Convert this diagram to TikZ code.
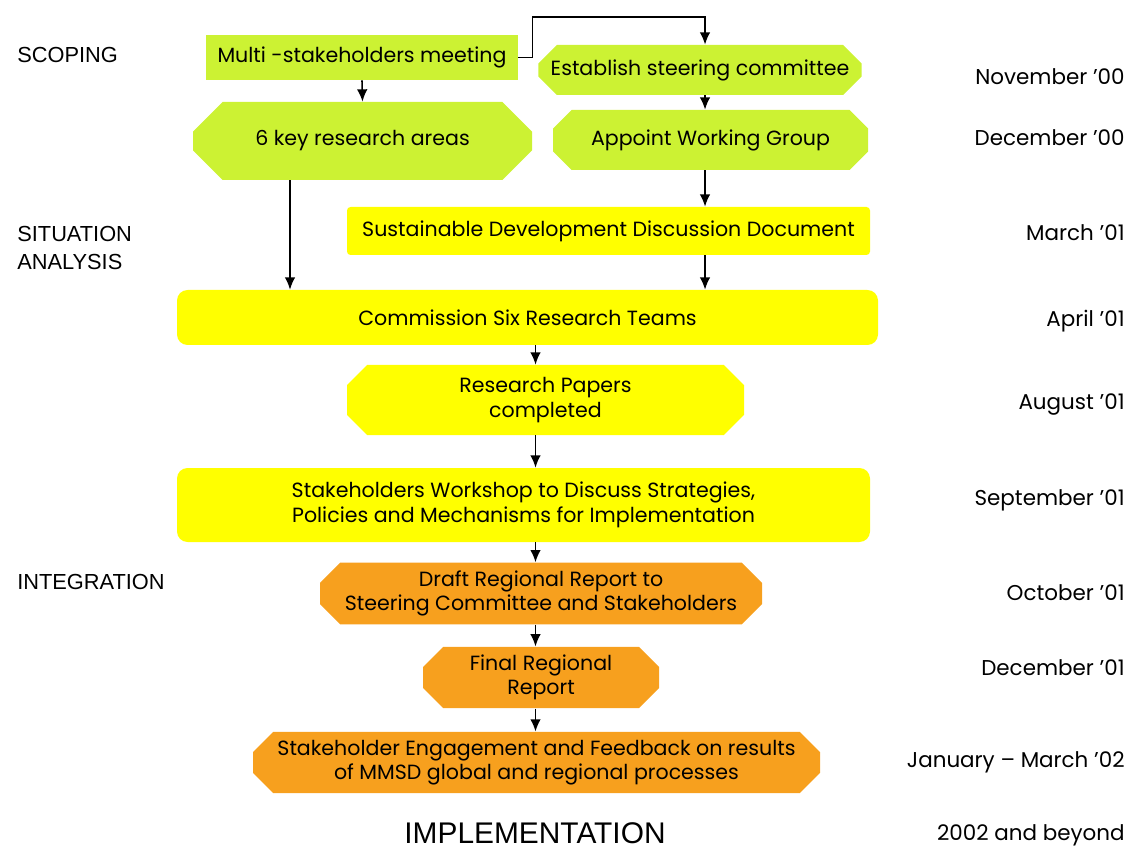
\documentclass[tikz,border=0pt]{standalone}
\usepackage{fontspec}
\usepackage{xcolor}
\usetikzlibrary{shapes.misc,arrows.meta}
\setmainfont{Poppins}
\newfontfamily\phasefont{Liberation Sans}

\begin{document}
\begin{tikzpicture}[
  box/.style={fill=#1,text=black,align=center,inner sep=1pt,font=\fontsize{11.7}{14}\selectfont},
  flatbox/.style={box=#1,rectangle},
  roundbox/.style={box=#1,rectangle,rounded corners=6pt},
  cutbox/.style={box=#1,inner ysep=0pt,chamfered rectangle,chamfered rectangle xsep=7pt,chamfered rectangle ysep=4.5pt},
  arr/.style={-{Latex[length=7pt,width=6pt]},line width=0.9pt},
  datelbl/.style={anchor=east,inner sep=0pt,font=\fontsize{12.2}{14}\selectfont},
  phase/.style={anchor=west,align=left,inner sep=0pt,font=\phasefont\fontsize{12.4}{15.5}\selectfont}]
\definecolor{lime}{HTML}{CCF233}
\definecolor{lemon}{HTML}{FFFF00}
\definecolor{amber}{HTML}{F7A01E}
\useasboundingbox (0,0) rectangle (22.66,-17.04);

% phases on the left
\node [phase] (scoping) at (0.34,-1.10) {SCOPING};
\node [phase] (situation) at (0.34,-4.96) {SITUATION\\ANALYSIS};
\node [phase] (integration) at (0.34,-11.64) {INTEGRATION};

% lanes for the arrows
\coordinate (llane) at (5.8,0);
\coordinate (rlane) at (14.1,0);
\coordinate (spine) at (10.71,0);
\coordinate (turn) at (14.1,-0.34);

% scoping
\node [flatbox=lime,minimum width=6.24cm,minimum height=0.9cm] (multi) at (7.24,-1.15) {Multi -stakeholders meeting};
\node [cutbox=lime,minimum width=6.4cm,minimum height=1cm] (steer) at (14.0,-1.40) {Establish steering committee};
\node [cutbox=lime,chamfered rectangle xsep=12pt,chamfered rectangle ysep=11pt,minimum width=6.78cm,minimum height=1.56cm] (areas) at (7.25,-2.82) {6 key research areas};
\node [cutbox=lime,minimum width=6.3cm,minimum height=1.2cm] (appoint) at (14.21,-2.80) {Appoint Working Group};

% situation analysis
\node [flatbox=lemon,rounded corners=2pt,minimum width=10.46cm,minimum height=0.96cm] (discuss) at (12.17,-4.62) {Sustainable Development Discussion Document};
\node [roundbox=lemon,minimum width=14.02cm,minimum height=1.1cm] (commission) at (10.55,-6.35) {Commission Six Research Teams};
\node [cutbox=lemon,minimum width=7.94cm,minimum height=1.4cm] (papers) at (10.91,-8.0) {Research Papers\\completed};
\node [roundbox=lemon,minimum width=13.86cm,minimum height=1.48cm] (workshop) at (10.47,-10.1) {Stakeholders Workshop to Discuss Strategies,\\Policies and Mechanisms for Implementation};

% integration
\node [cutbox=amber,minimum width=8.84cm,minimum height=1.14cm] (draft) at (10.82,-11.87) {Draft Regional Report to\\Steering Committee and Stakeholders};
\node [cutbox=amber,minimum width=4.72cm,minimum height=1.18cm] (final) at (10.82,-13.55) {Final Regional\\Report};
\node [cutbox=amber,minimum width=11.34cm,minimum height=1.1cm] (engage) at (10.73,-15.25) {Stakeholder Engagement and Feedback on results\\of MMSD global and regional processes};
\node [font=\phasefont\fontsize{17}{19}\selectfont] (impl) at (10.7,-16.66) {IMPLEMENTATION};

% dates on the right
\foreach \dte/\ypos [count=\i] in {November ’00/1.54,December ’00/2.76,March ’01/4.66,April ’01/6.42,August ’01/8.10,September ’01/10.0,October ’01/11.86,December ’01/13.36,January – March ’02/15.24,2002 and beyond/16.70}
  {  \node [datelbl] (date\i) at (22.5,-\ypos) {\dte};}

% arrows
\draw [arr] (multi.east) -- ++(0.28,0) |- (turn) -- (steer.north -| rlane);
\draw [arr] (multi.south) -- (areas.north);
\draw [arr] (steer.south -| rlane) -- (appoint.north -| rlane);
\draw [arr] (appoint.south -| rlane) -- (discuss.north -| rlane);
\draw [arr] (discuss.south -| rlane) -- (commission.north -| rlane);
\draw [arr] (areas.south -| llane) -- (commission.north -| llane);
\draw [arr] (commission.south -| spine) -- (papers.north -| spine);
\draw [arr] (papers.south -| spine) -- (workshop.north -| spine);
\draw [arr] (workshop.south -| spine) -- (draft.north -| spine);
\draw [arr] (draft.south -| spine) -- (final.north -| spine);
\draw [arr] (final.south -| spine) -- (engage.north -| spine);
\end{tikzpicture}
\end{document}
